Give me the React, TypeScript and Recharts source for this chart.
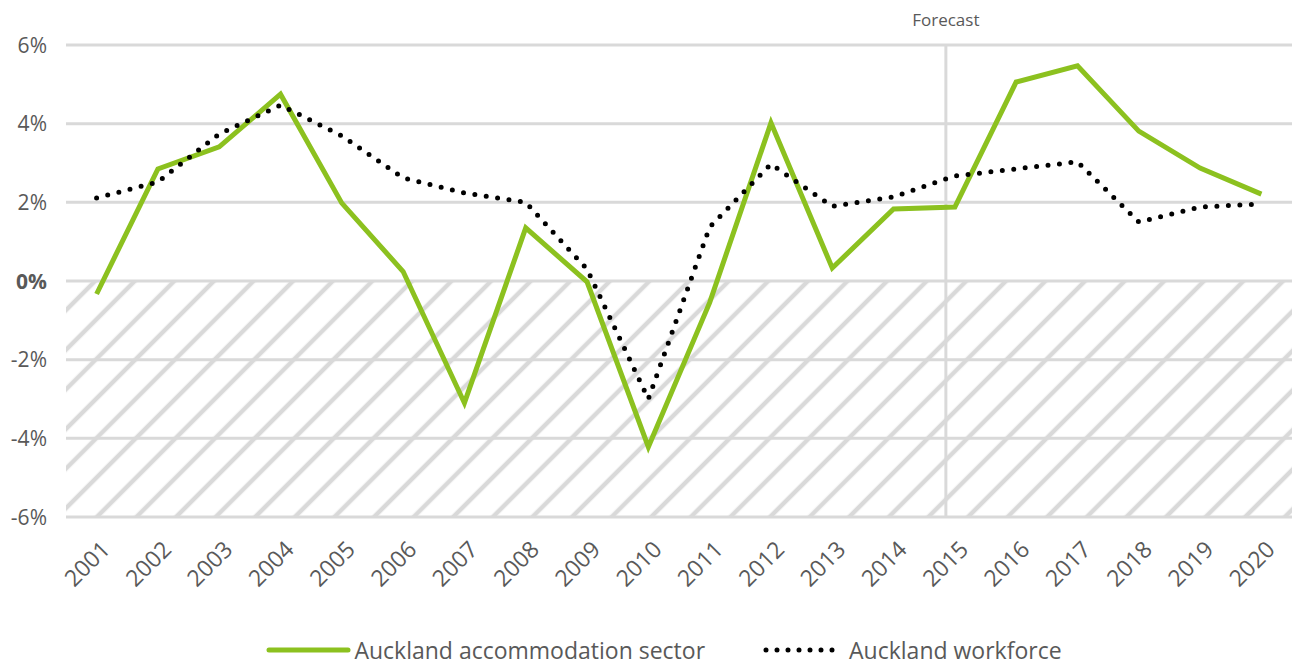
import { LineChart, Line, XAxis, YAxis, CartesianGrid, ReferenceArea, ReferenceLine, Legend } from 'recharts'

const years = ['2001', '2002', '2003', '2004', '2005', '2006', '2007', '2008', '2009', '2010',
    '2011', '2012', '2013', '2014', '2015', '2016', '2017', '2018', '2019', '2020']

const accommodation = [-0.33, 2.85, 3.41, 4.75, 1.98, 0.24, -3.1, 1.35, -0.02, -4.22,
    -0.55, 4.02, 0.33, 1.83, 1.88, 5.06, 5.47, 3.81, 2.87, 2.21]

const workforce = [2.11, 2.52, 3.74, 4.47, 3.69, 2.62, 2.24, 2.0, 0.3, -3.0,
    1.37, 2.97, 1.9, 2.14, 2.67, 2.85, 3.03, 1.5, 1.88, 1.96]

const yTicks = [-6, -4, -2, 0, 2, 4, 6]

const seriesNames = {
    accommodation: 'Auckland accommodation sector',
    workforce: 'Auckland workforce',
}

const forecastYear = '2015'

const data = years.map((year, i) => ({
    year,
    accommodation: accommodation[i],
    workforce: workforce[i],
}))

const FONT = '"Open Sans", sans-serif'
const GREEN = '#8CC11F'
const TEXT = '#595959'
const GRID = '#D9D9D9'
const PAD = 30.6

function YTick({ x, y, payload }: any) {
    return (
        <text x={x} y={y} dy="0.36em" textAnchor="end" fill={TEXT} fontSize={21} fontFamily={FONT}
            fontWeight={payload.value === 0 ? 700 : 400}>
            {payload.value}%
        </text>
    )
}

function XTick({ x, y, payload }: any) {
    return (
        <g transform={`translate(${x + 9},${y + 20}) rotate(-45)`}>
            <text x={0} y={0} dy="0.36em" textAnchor="end" fill={TEXT} fontSize={23} fontFamily={FONT}>
                {payload.value}
            </text>
        </g>
    )
}

// hatched band below zero, stretched over the axis padding
function HatchArea({ x, y, width, height }: any) {
    return <rect x={x - PAD} y={y} width={width + PAD * 2} height={height} fill="url(#hatch)" />
}

function ForecastLine({ x1, y1, y2 }: any) {
    const x = x1 - 9
    return (
        <g>
            <line x1={x} x2={x} y1={y1} y2={y2} stroke={GRID} strokeWidth={3} />
            <text x={x} y={20} dy="0.36em" textAnchor="middle" fill={TEXT} fontSize={17} fontFamily={FONT}>
                Forecast
            </text>
        </g>
    )
}

function LegendContent() {
    return (
        <div style={{ display: 'flex', justifyContent: 'center', alignItems: 'center', gap: 58, paddingLeft: 36, fontFamily: FONT, fontSize: 23, color: TEXT, height: 28 }}>
            <div style={{ display: 'flex', alignItems: 'center' }}>
                <svg width={88} height={10}>
                    <line x1={3} x2={82} y1={5} y2={5} stroke={GREEN} strokeWidth={5} strokeLinecap="round" />
                </svg>
                <span>{seriesNames.accommodation}</span>
            </div>
            <div style={{ display: 'flex', alignItems: 'center' }}>
                <svg width={86} height={10}>
                    <line x1={3} x2={80} y1={5} y2={5} stroke="#000" strokeWidth={5} strokeDasharray="0 11" strokeLinecap="round" />
                </svg>
                <span>{seriesNames.workforce}</span>
            </div>
        </div>
    )
}

export default function App() {
    return (
        <div style={{ position: 'absolute', left: 0, top: 0, background: '#fff' }}>
            <LineChart width={1293} height={664} data={data} margin={{ top: 45, right: 1, bottom: 0, left: 0 }}>
                <defs>
                    <pattern id="hatch" patternUnits="userSpaceOnUse" width={28} height={28} patternTransform="rotate(45)">
                        <line x1={14} y1={0} x2={14} y2={28} stroke={GRID} strokeWidth={4.5} />
                    </pattern>
                </defs>
                <ReferenceArea y1={-6} y2={0} shape={<HatchArea />} ifOverflow="visible" />
                <CartesianGrid vertical={false} stroke={GRID} strokeWidth={3} />
                <XAxis dataKey="year" height={119} axisLine={false} tickLine={false} interval={0}
                    padding={{ left: PAD, right: PAD }} tick={<XTick />} />
                <YAxis width={66} domain={[-6, 6]} ticks={yTicks} axisLine={false} tickLine={false}
                    tickSize={0} tickMargin={19} tick={<YTick />} />
                <ReferenceLine x={forecastYear} stroke={GRID} shape={<ForecastLine />} />
                <Legend verticalAlign="bottom" height={28} content={<LegendContent />} />
                <Line type="linear" dataKey="accommodation" name={seriesNames.accommodation} stroke={GREEN}
                    strokeWidth={5} dot={false} activeDot={false} isAnimationActive={false} />
                <Line type="linear" dataKey="workforce" name={seriesNames.workforce} stroke="#000"
                    strokeWidth={5} strokeDasharray="0 11.5" strokeLinecap="round" dot={false} activeDot={false}
                    isAnimationActive={false} />
            </LineChart>
        </div>
    )
}
